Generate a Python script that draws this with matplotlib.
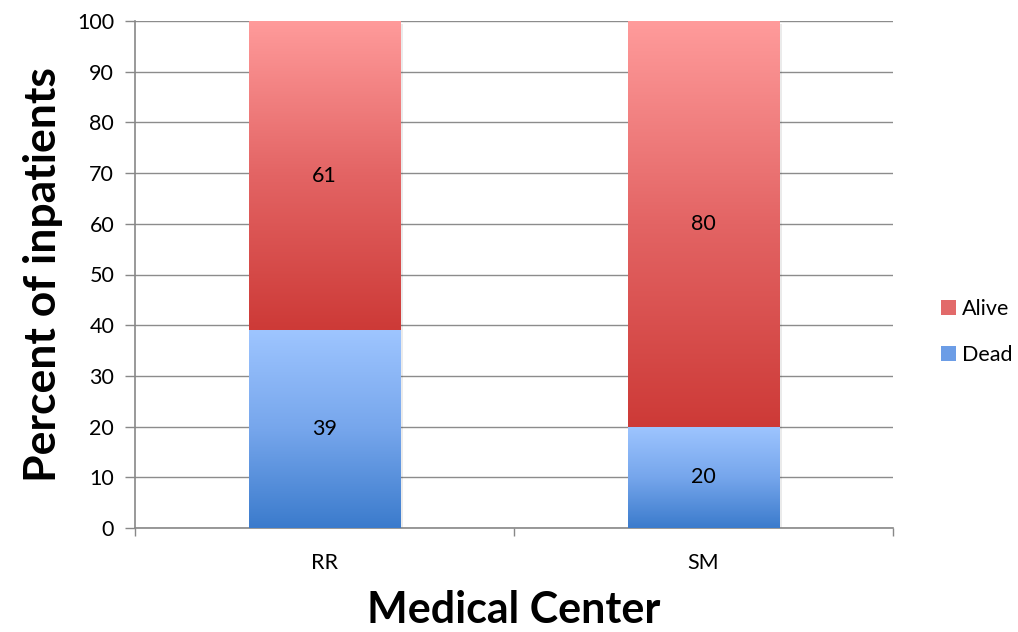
import numpy as np
import matplotlib
matplotlib.use("Agg")
import matplotlib.pyplot as plt
from matplotlib.colors import LinearSegmentedColormap
from matplotlib.patches import Patch, Rectangle

categories = ["RR", "SM"]
dead = [39, 20]
alive = [61, 80]
series_names = ["Alive", "Dead"]
yticks = list(range(0, 101, 10))

plt.rcParams['font.family'] = ['Lato', 'DejaVu Sans']

fig = plt.figure(figsize=(10.18, 6.32), dpi=100)
ax = fig.add_axes([135/1018, 1-528/632, (893-135)/1018, (528-21)/632])

red_cmap = LinearSegmentedColormap.from_list("r", ["#CD3A37", "#E36464", "#FF9B9B"])
blue_cmap = LinearSegmentedColormap.from_list("b", ["#3B7BCC", "#76A6EC", "#9EC5FF"])
grad = np.linspace(0, 1, 256).reshape(-1, 1)

width = 0.4
x = np.arange(len(categories))
for i in range(len(categories)):
    segs = [(0, dead[i], blue_cmap), (dead[i], dead[i] + alive[i], red_cmap)]
    ax.add_patch(Rectangle((x[i] - width/2 + 0.006, -0.6), width, dead[i] + alive[i],
                           facecolor="#000000", alpha=0.08, edgecolor="none", zorder=2))
    for b, t, cm in segs:
        ax.imshow(grad, cmap=cm, origin="lower", aspect="auto",
                  extent=[x[i] - width/2, x[i] + width/2, b, t], zorder=3)
    ax.text(x[i], dead[i] / 2, str(dead[i]), ha="center", va="center", fontsize=15.5, zorder=4)
    ax.text(x[i], dead[i] + alive[i] / 2, str(alive[i]), ha="center", va="center", fontsize=15.5, zorder=4)

ax.set_xlim(-0.5, len(categories) - 0.5)
ax.set_ylim(0, 100)
ax.set_yticks(yticks)
ax.set_yticklabels([str(v) for v in yticks], fontsize=15.5)
ax.set_xticks(x)
ax.set_xticklabels(categories, fontsize=15.5)
ax.set_xticks(np.arange(-0.5, len(categories), 1.0), minor=True)
ax.tick_params(axis="x", which="major", length=0, pad=18)
ax.tick_params(axis="x", which="minor", length=6, color="#888888", width=1)
ax.tick_params(axis="y", length=7, color="#888888", width=1, pad=8)
ax.grid(axis="y", color="#8C8C8C", linewidth=1, zorder=0)
ax.set_axisbelow(True)
for s in ["top", "right"]:
    ax.spines[s].set_visible(False)
for s in ["left", "bottom"]:
    ax.spines[s].set_color("#888888")
    ax.spines[s].set_linewidth(1.2)

ax.set_ylabel("Percent of inpatients", fontsize=32, fontweight="bold", labelpad=10)
ax.set_xlabel("Medical Center", fontsize=31, fontweight="bold", labelpad=12)

handles = [Patch(facecolor="#E26A6A", edgecolor="none"), Patch(facecolor="#6C9DE6", edgecolor="none")]
fig.legend(handles, series_names, loc="center left", bbox_to_anchor=(0.905, 0.475),
           frameon=False, fontsize=15.5, handlelength=0.7, handleheight=0.7,
           handletextpad=0.3, labelspacing=1.2)

fig.savefig("out.png", dpi=100)
